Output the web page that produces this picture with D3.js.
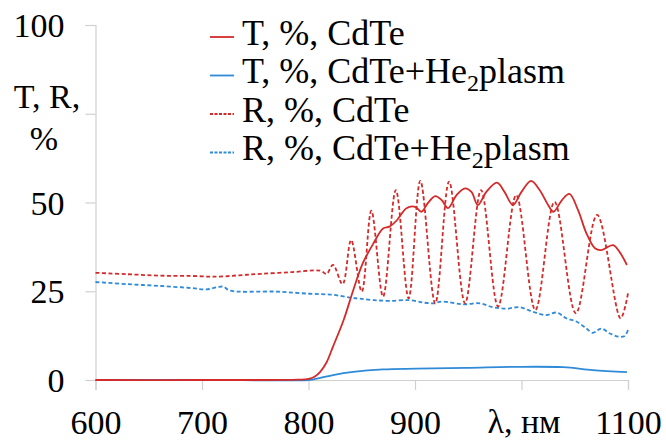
<!DOCTYPE html>
<html><head><meta charset="utf-8">
<script src="https://cdn.jsdelivr.net/npm/d3@7"></script>
<style>
*{font-family:'Liberation Serif',serif !important}
body{margin:0;background:#fff}
svg{display:block}
</style>
</head><body>
<svg id="c" width="666" height="441" font-family="Liberation Serif"></svg>
<script>
const seriesNames = ["T, %, CdTe", "T, %, CdTe+He", "R, %, CdTe", "R, %, CdTe+He"];
const seriesSub = ["", "2", "", "2"];
const seriesTail = ["", "plasm", "", "plasm"];
const xTickValues = [600, 700, 800, 900, 1000, 1100];
const xTickLabels = ["600", "700", "800", "900", "", "1100"];
const yTickValues = [0, 25, 50, 75, 100];
const yTickLabels = ["0", "25", "50", "", "100"];

const tCdTe = [[600,0],[700,0],[790,0.1],[800,0.3],[806,1],[811,2.3],[817,5],[823,9.4],[833,16.9],[842,25.3],[851,32.9],[861,38.5],[870,42.7],[876,43.2],[883,45],[892,48.4],[900,48.8],[906,47.4],[912,49.8],[919,51.8],[925,50.7],[931,48.4],[939,52.1],[947,54],[953,53],[959,49.3],[967,53],[977,55.6],[984,53],[992,49.3],[1000,53],[1009,56.1],[1017,53.5],[1025,49.3],[1030,47.4],[1038,50.7],[1045,52.4],[1053,47.9],[1061,41.3],[1069,37.1],[1075,36.6],[1086,38],[1092,36.1],[1099,32.4]];
const tCdTeHe = [[600,0],[700,0],[800,0],[805,0.2],[823,1.4],[842,2.3],[870,3.0],[901,3.2],[948,3.4],[995,3.7],[1039,3.6],[1067,2.8],[1099,2.2]];
const rCdTe = [[600,30.2],[630,29.8],[660,29.4],[690,29.3],[714,29.1],[735,29.5],[755,29.9],[785,30.4],[811,30.8],[817,29.9],[823,32.4],[832,27.0],[840,39.4],[850,24.9],[859,47.7],[870,23.5],[882,53.5],[894,23],[905,56.1],[919,21.6],[932,55.9],[947,21.6],[962,53.5],[978,20.7],[995,52.1],[1013,19.7],[1031,50.2],[1051,18.8],[1071,46.5],[1093,17.4],[1100,24.4]];
const rCdTeHe = [[600,27.6],[630,27.0],[660,26.5],[690,25.9],[704,25.5],[714,26.1],[720,26.3],[726,25.2],[770,24.9],[801,24.3],[823,24.0],[839,23.2],[848,22.9],[861,22.5],[876,22.3],[895,22.5],[908,21.8],[917,21.6],[926,22.1],[945,21.3],[961,21.6],[973,20.5],[986,20.1],[998,20.5],[1011,19.2],[1023,18.3],[1033,19],[1042,17.4],[1052,16.4],[1061,14.5],[1067,13.3],[1075,14.5],[1083,13.1],[1091,12.2],[1097,12.4],[1100,14.1]];

const seriesData = [tCdTe, tCdTeHe, rCdTe, rCdTeHe];
const colors = ["#d42a2a", "#2f8ad8", "#d42a2a", "#2f8ad8"];
const dashes = [null, null, "4,2.5", "4,2.5"];
const FONT = "Liberation Serif";

const svg = d3.select("#c");
const x = d3.scaleLinear().domain([600, 1100]).range([95.5, 628]);
const y = d3.scaleLinear().domain([0, 100]).range([380, 25]);

const xAxis = svg.append("g").attr("transform", "translate(0,380)")
  .call(d3.axisBottom(x).tickValues(xTickValues).tickSize(10).tickPadding(20)
    .tickFormat((d, i) => xTickLabels[i]));
const yAxis = svg.append("g").attr("transform", "translate(95.5,0)")
  .call(d3.axisLeft(y).tickValues(yTickValues).tickSize(10).tickPadding(21)
    .tickFormat((d, i) => yTickLabels[i]));
[xAxis, yAxis].forEach(a => {
  a.attr("font-family", FONT).attr("font-size", 34);
  a.selectAll("path.domain").attr("stroke", "#d0d0d0").attr("stroke-width", 1.2);
  a.selectAll(".tick line").attr("stroke", "#d0d0d0").attr("stroke-width", 1.2);
  a.selectAll("text").attr("fill", "#000");
});
xAxis.selectAll("text").attr("dy", "0.71em");
yAxis.selectAll("text").attr("dy", "0.34em");

svg.append("text").attr("x", 47).attr("y", 108).attr("text-anchor", "middle").attr("font-size", 34).text("T, R,");
svg.append("text").attr("x", 44).attr("y", 150).attr("text-anchor", "middle").attr("font-size", 34).text("%");
svg.append("text").attr("x", 524).attr("y", 433).attr("text-anchor", "middle").attr("font-size", 34).text("λ, нм");

const line = d3.line().x(d => x(d[0])).y(d => y(d[1])).curve(d3.curveCatmullRom.alpha(0.5));
[3, 2, 1, 0].forEach(i => {
  svg.append("path").datum(seriesData[i]).attr("d", line)
    .attr("fill", "none").attr("stroke", colors[i]).attr("stroke-width", 1.8)
    .attr("stroke-dasharray", dashes[i]);
});

const lg = svg.append("g");
seriesNames.forEach((name, i) => {
  const cy = 37 + i * 38.5;
  lg.append("line").attr("x1", 210).attr("x2", 234).attr("y1", cy).attr("y2", cy)
    .attr("stroke", colors[i]).attr("stroke-width", 1.8).attr("stroke-dasharray", dashes[i] ? "3,1.5" : null);
  const t = lg.append("text").attr("x", 242).attr("y", cy + 7.5).attr("font-size", 36);
  t.append("tspan").text(name);
  if (seriesSub[i]) {
    t.append("tspan").attr("font-size", 24).attr("dy", 8).text(seriesSub[i]);
    t.append("tspan").attr("dy", -8).text(seriesTail[i]);
  }
});
svg.selectAll("text").attr("font-family", FONT)
  .each(function(){ this.style.setProperty("font-family", "'Liberation Serif', serif", "important"); });
</script></body></html>
